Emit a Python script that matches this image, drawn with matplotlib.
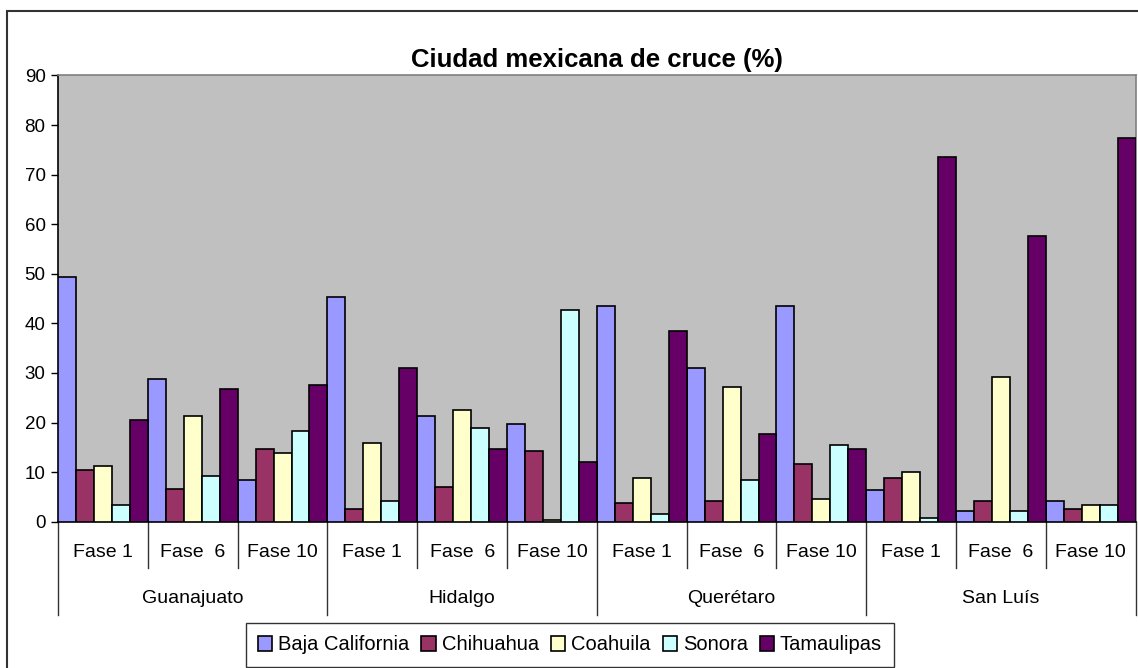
import numpy as np
import matplotlib.pyplot as plt
from matplotlib.patches import Rectangle

plt.rcParams['font.family'] = ['Liberation Sans', 'DejaVu Sans']

# data
estados = ['Guanajuato', 'Hidalgo', 'Querétaro', 'San Luís']
fases = ['Fase 1', 'Fase  6', 'Fase 10']
series = ['Baja California', 'Chihuahua', 'Coahuila', 'Sonora', 'Tamaulipas']
colores = ['#9999FF', '#993366', '#FFFFCC', '#CCFFFF', '#660066']

baja_california = [49.3, 28.7, 8.4, 45.4, 21.3, 19.7, 43.5, 31.1, 43.5, 6.4, 2.2, 4.2]
chihuahua = [10.4, 6.5, 14.7, 2.6, 6.9, 14.3, 3.8, 4.2, 11.6, 8.9, 4.2, 2.6]
coahuila = [11.2, 21.3, 13.9, 15.8, 22.5, 0.3, 8.9, 27.2, 4.5, 10.0, 29.1, 3.4]
sonora = [3.4, 9.2, 18.2, 4.2, 19.0, 42.7, 1.5, 8.4, 15.5, 0.7, 2.2, 3.4]
tamaulipas = [20.5, 26.8, 27.6, 31.0, 14.7, 12.0, 38.5, 17.7, 14.7, 73.5, 57.6, 77.4]
valores = [baja_california, chihuahua, coahuila, sonora, tamaulipas]

fig = plt.figure(figsize=(11.38, 6.68), dpi=100)
ax = fig.add_axes([0.051, 0.219, 0.947, 0.668])

# outer chart frame
fig.patches.append(Rectangle((7 / 1138, -0.1), 1.2, 1 - 11 / 668 + 0.1,
                             transform=fig.transFigure, fill=False,
                             edgecolor='#333333', linewidth=1.5))

n = len(estados) * len(fases)
x = np.arange(n)
w = 0.2
for k, (nombre, vals, c) in enumerate(zip(series, valores, colores)):
    ax.bar(x + (k - 2) * w, vals, width=w, color=c, edgecolor='black',
           linewidth=1.2, label=nombre, zorder=3)

ax.set_xlim(-0.5, n - 0.5)
ax.set_ylim(0, 90)
ax.set_yticks(range(0, 91, 10))
ax.set_facecolor('#C0C0C0')
ax.set_xticks([])
ax.tick_params(axis='y', direction='out', length=5, width=1, labelsize=13.5, pad=4)
for s in ['top', 'right']:
    ax.spines[s].set_color('#808080')
    ax.spines[s].set_linewidth(1.2)
for s in ['left', 'bottom']:
    ax.spines[s].set_color('black')
    ax.spines[s].set_linewidth(1.2)

ax.set_title('Ciudad mexicana de cruce (%)', fontsize=18.5, fontweight='bold',
             pad=6)

# category axis (two levels)
tr = ax.get_xaxis_transform()
for i in range(n):
    ax.text(i, -0.068, fases[i % 3], transform=tr, ha='center', va='center',
            fontsize=14)
for i in range(n + 1):
    y_end = -0.209 if i % 3 == 0 else -0.104
    ax.plot([i - 0.5, i - 0.5], [0, y_end], transform=tr, color='#333333',
            linewidth=1, clip_on=False)
for g, est in enumerate(estados):
    ax.text(g * 3 + 1, -0.171, est, transform=tr, ha='center', va='center',
            fontsize=14)

leg = fig.legend(loc='center', bbox_to_anchor=(570 / 1138, 1 - 645 / 668),
                 ncol=5, fontsize=14.5, frameon=True, fancybox=False,
                 handlelength=0.7, handleheight=0.7, handletextpad=0.3,
                 columnspacing=0.6, borderpad=0.6)
leg.get_frame().set_edgecolor('black')
leg.get_frame().set_linewidth(1)

fig.savefig('out.png', dpi=100)
